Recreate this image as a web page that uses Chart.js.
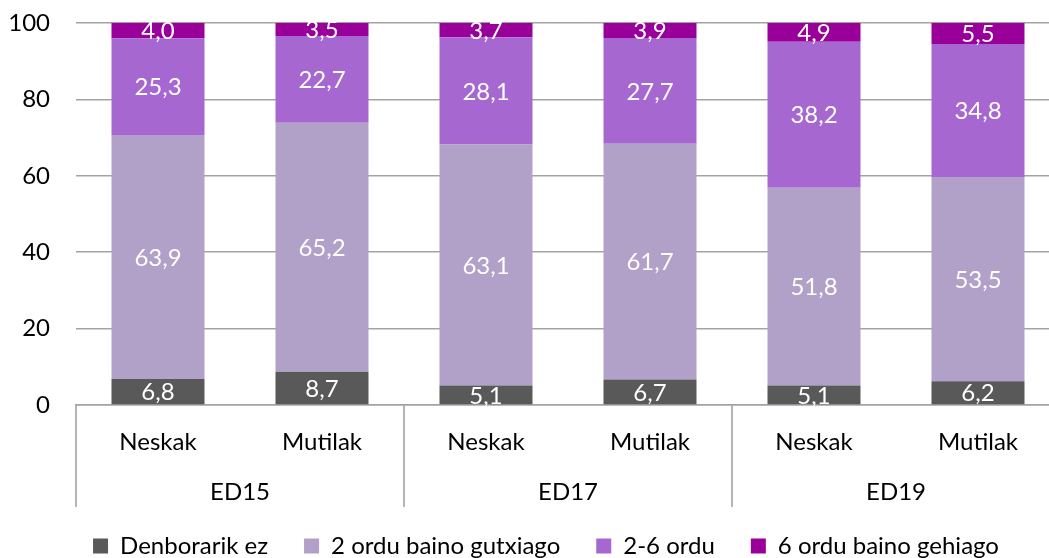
<!DOCTYPE html>
<html>
<head>
<meta charset="utf-8">
<script src="https://cdn.jsdelivr.net/npm/chart.js@4/dist/chart.umd.min.js"></script>
<style>
  html, body { margin: 0; padding: 0; overflow: hidden; background: #fff; }
  #wrap { width: 1092px; height: 558px; }
</style>
</head>
<body>
<div id="wrap"><canvas id="c" width="1092" height="558"></canvas></div>
<script>
const categories = ['Neskak', 'Mutilak', 'Neskak', 'Mutilak', 'Neskak', 'Mutilak'];
const groups = ['ED15', 'ED17', 'ED19'];
const seriesNames = ['Denborarik ez', '2 ordu baino gutxiago', '2-6 ordu', '6 ordu baino gehiago'];
const denborarikEz = [6.8, 8.7, 5.1, 6.7, 5.1, 6.2];
const ordu2Gutxiago = [63.9, 65.2, 63.1, 61.7, 51.8, 53.5];
const ordu2to6 = [25.3, 22.7, 28.1, 27.7, 38.2, 34.8];
const ordu6Gehiago = [4.0, 3.5, 3.7, 3.9, 4.9, 5.5];
const yTicks = [0, 20, 40, 60, 80, 100];

const colors = ['#595959', '#b1a0c7', '#a667d0', '#990099'];
const FONT = 'Lato, "Noto Sans", sans-serif';
const FS = 24;
const GRID = '#a3a3a3';

const seriesValues = [denborarikEz, ordu2Gutxiago, ordu2to6, ordu6Gehiago];

const fmt = v => v.toFixed(1).replace('.', ',');

const labelPlugin = {
  id: 'segLabels',
  afterDatasetsDraw(chart) {
    const ctx = chart.ctx;
    ctx.save();
    ctx.font = FS + 'px ' + FONT;
    ctx.fillStyle = '#ffffff';
    ctx.textAlign = 'center';
    ctx.textBaseline = 'middle';
    chart.data.datasets.forEach((ds, di) => {
      const meta = chart.getDatasetMeta(di);
      meta.data.forEach((el, i) => {
        const y = (el.y + el.base) / 2;
        ctx.fillText(fmt(ds.data[i]), el.x, y + 1);
      });
    });
    ctx.restore();
  }
};

const groupPlugin = {
  id: 'groupAxis',
  afterInit(chart) {
    const lg = chart.legend;
    if (lg) {
      const orig = lg.fit;
      lg.fit = function () { orig.call(this); this.height = 60; };
    }
  },
  afterLayout(chart) {
    const lg = chart.legend;
    if (lg) { lg.left = 0; lg.right = chart.width; }
  },
  afterDraw(chart) {
    const ctx = chart.ctx;
    const xs = chart.scales.x;
    const area = chart.chartArea;
    const bottom = area.bottom;
    const px = i => xs.getPixelForValue(i);
    const bounds = [area.left];
    for (let g = 1; g < groups.length; g++) {
      bounds.push((px(2 * g - 1) + px(2 * g)) / 2);
    }
    bounds.push(area.right);
    ctx.save();
    ctx.strokeStyle = GRID;
    ctx.lineWidth = 1.6;
    bounds.forEach(b => {
      ctx.beginPath();
      ctx.moveTo(b, bottom);
      ctx.lineTo(b, bottom + 102);
      ctx.stroke();
    });
    ctx.font = FS + 'px ' + FONT;
    ctx.fillStyle = '#000';
    ctx.textAlign = 'center';
    ctx.textBaseline = 'middle';
    groups.forEach((g, i) => {
      ctx.fillText(g, (bounds[i] + bounds[i + 1]) / 2, 492);
    });
    ctx.restore();
  }
};

new Chart(document.getElementById('c'), {
  type: 'bar',
  data: {
    labels: categories,
    datasets: seriesNames.map((name, k) => ({
      label: name,
      data: seriesValues[k],
      backgroundColor: colors[k],
      borderWidth: 0,
      categoryPercentage: 1,
      barPercentage: 0.567
    }))
  },
  options: {
    responsive: false,
    animation: false,
    devicePixelRatio: 1,
    layout: { padding: { top: 23, right: 32, left: 0, bottom: 0 } },
    plugins: {
      tooltip: { enabled: false },
      legend: {
        position: 'bottom',
        labels: {
          font: { family: FONT, size: FS },
          color: '#000',
          boxWidth: 15,
          boxHeight: 15,
          padding: 36
        }
      }
    },
    scales: {
      x: {
        stacked: true,
        grid: { display: false, drawTicks: false },
        border: { display: true, color: GRID, width: 1.6 },
        ticks: { font: { family: FONT, size: FS }, color: '#000', padding: 23, maxRotation: 0, autoSkip: false },
        afterFit(scale) { scale.height = 93; }
      },
      y: {
        stacked: true,
        min: 0,
        max: 100,
        afterBuildTicks(scale) { scale.ticks = yTicks.map(v => ({ value: v })); },
        grid: { color: GRID, lineWidth: 1.6, drawTicks: false },
        border: { display: false },
        ticks: { font: { family: FONT, size: FS }, color: '#000', padding: 26 },
        afterFit(scale) { scale.width = 76; scale.paddingTop = 0; scale.paddingBottom = 0; }
      }
    }
  },
  plugins: [labelPlugin, groupPlugin]
});
</script>
</body>
</html>
